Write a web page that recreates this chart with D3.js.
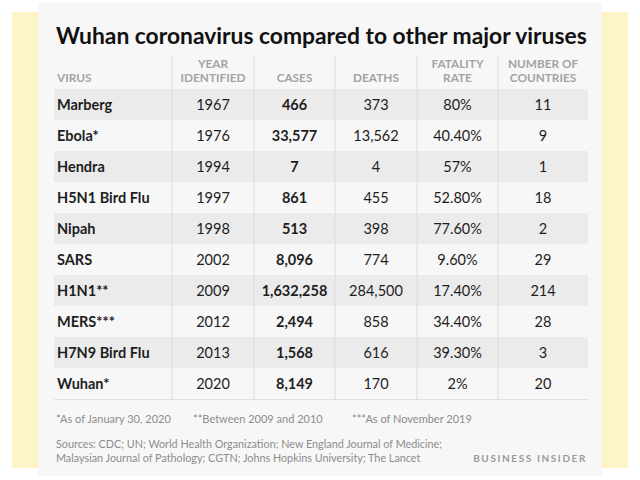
<!DOCTYPE html>
<html>
<head>
<meta charset="utf-8">
<script src="https://cdn.jsdelivr.net/npm/d3@7"></script>
<style>
  body { margin: 0; background: #fff; }
  text { font-family: Lato, "Open Sans", sans-serif; }
</style>
</head>
<body>
<svg id="chart" width="640" height="480"></svg>
<script>
// table data
var viruses   = ["Marberg", "Ebola*", "Hendra", "H5N1 Bird Flu", "Nipah", "SARS", "H1N1**", "MERS***", "H7N9 Bird Flu", "Wuhan*"];
var years     = [1967, 1976, 1994, 1997, 1998, 2002, 2009, 2012, 2013, 2020];
var cases     = [466, 33577, 7, 861, 513, 8096, 1632258, 2494, 1568, 8149];
var deaths    = [373, 13562, 4, 455, 398, 774, 284500, 858, 616, 170];
var fatality  = ["80%", "40.40%", "57%", "52.80%", "77.60%", "9.60%", "17.40%", "34.40%", "39.30%", "2%"];
var countries = [11, 9, 1, 18, 2, 29, 214, 28, 3, 20];
var headers   = [["VIRUS"], ["YEAR", "IDENTIFIED"], ["CASES"], ["DEATHS"], ["FATALITY", "RATE"], ["NUMBER OF", "COUNTRIES"]];
var footnotes = ["*As of January 30, 2020", "**Between 2009 and 2010", "***As of November 2019"];
var sources   = ["Sources: CDC; UN; World Health Organization; New England Journal of Medicine;",
                 "Malaysian Journal of Pathology; CGTN; Johns Hopkins University; The Lancet"];

var svg = d3.select("#chart");
var fmt = d3.format(",");

// backdrop + card
svg.append("rect").attr("x", 12).attr("y", 12).attr("width", 616).attr("height", 456).attr("fill", "#fdf4c8");
svg.append("rect").attr("x", 38).attr("y", 2).attr("width", 564).attr("height", 474).attr("fill", "#f7f7f7");

// scales
var y = d3.scaleBand().domain(viruses).range([89, 399]);
var col = d3.scaleLinear().domain([0, 1, 2, 3, 4, 5, 6]).range([54, 172, 254, 335, 417, 498, 588]);
var mid = function(i) { return (col(i) + col(i + 1)) / 2; };

// title, shrunk to fit the card width
var title = svg.append("text")
    .attr("x", 56).attr("y", 44)
    .attr("font-size", 24).attr("font-weight", 700).attr("fill", "#111")
    .text("Wuhan coronavirus compared to other major viruses");
var tw = title.node().getComputedTextLength();
title.attr("font-size", 24 * 531 / tw);

// row stripes
svg.selectAll("rect.stripe")
    .data(viruses.filter(function(d, i) { return i % 2 === 0; }))
    .enter().append("rect")
    .attr("class", "stripe")
    .attr("x", col(0)).attr("width", col(6) - col(0))
    .attr("y", function(d) { return y(d); })
    .attr("height", y.bandwidth())
    .attr("fill", "#ebebeb");

// column separators
svg.selectAll("line.sep")
    .data([1, 2, 3, 4, 5])
    .enter().append("line")
    .attr("x1", function(d) { return col(d); }).attr("x2", function(d) { return col(d); })
    .attr("y1", 56).attr("y2", y.range()[1])
    .attr("stroke", "#dcdcdc");

svg.append("line")
    .attr("x1", col(0)).attr("x2", col(6))
    .attr("y1", y.range()[1] + 0.5).attr("y2", y.range()[1] + 0.5)
    .attr("stroke", "#e0e0e0");

// headers, one text per line
headers.forEach(function(h, i) {
    svg.selectAll(null)
        .data(h)
        .enter().append("text")
        .attr("x", i === 0 ? 57 : mid(i))
        .attr("y", function(line, j) { return 82 - (h.length - 1 - j) * 14; })
        .attr("text-anchor", i === 0 ? "start" : "middle")
        .attr("font-size", 11.8).attr("font-weight", 700).attr("fill", "#a3a3a3")
        .text(function(line) { return line; });
});

// body cells
var rows = viruses.map(function(v, i) {
    return [v, years[i], fmt(cases[i]), fmt(deaths[i]), fatality[i], countries[i]];
});

rows.forEach(function(r, ri) {
    svg.selectAll(null)
        .data(r)
        .enter().append("text")
        .attr("x", function(d, i) { return i === 0 ? 57 : mid(i); })
        .attr("y", y(viruses[ri]) + y.bandwidth() / 2 + 5)
        .attr("text-anchor", function(d, i) { return i === 0 ? "start" : "middle"; })
        .attr("font-size", 14.5)
        .attr("font-weight", function(d, i) { return (i === 0 || i === 2) ? 700 : 400; })
        .attr("fill", "#1e1e1e")
        .text(function(d) { return d; });
});

// footnotes
svg.selectAll("text.fn")
    .data(footnotes)
    .enter().append("text")
    .attr("class", "fn")
    .attr("x", function(d, i) { return [56, 193, 352][i]; })
    .attr("y", 423)
    .attr("font-size", 11).attr("fill", "#8c8c8c")
    .text(function(d) { return d; });

svg.selectAll("text.src")
    .data(sources)
    .enter().append("text")
    .attr("class", "src")
    .attr("x", 56)
    .attr("y", function(d, i) { return 448 + i * 14; })
    .attr("font-size", 10.8).attr("fill", "#8c8c8c")
    .text(function(d) { return d; });

svg.append("text")
    .attr("x", 587).attr("y", 462)
    .attr("text-anchor", "end")
    .attr("font-size", 10).attr("font-weight", 700)
    .attr("letter-spacing", 1.6).attr("fill", "#9a9a9a")
    .text("BUSINESS INSIDER");
</script>
</body>
</html>
